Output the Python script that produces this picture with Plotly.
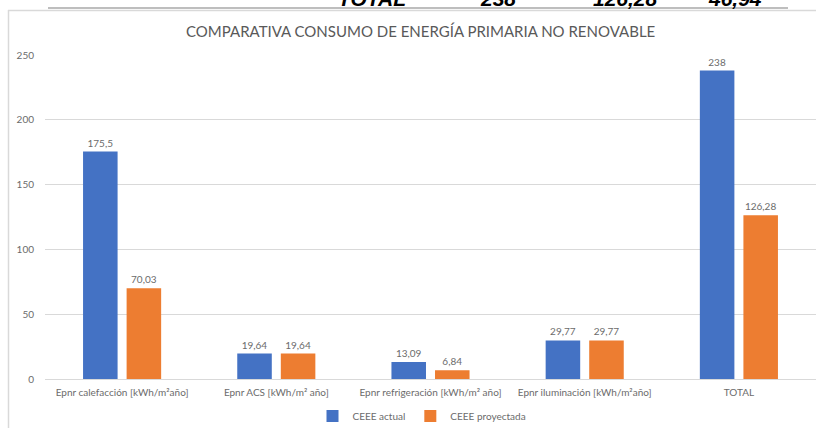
import plotly.graph_objects as go

categories = ["Epnr calefacción [kWh/m²año]", "Epnr ACS [kWh/m² año]",
              "Epnr refrigeración [kWh/m² año]", "Epnr iluminación [kWh/m²año]", "TOTAL"]
actual = [175.5, 19.64, 13.09, 29.77, 238]
proyectada = [70.03, 19.64, 6.84, 29.77, 126.28]
actual_labels = ["175,5", "19,64", "13,09", "29,77", "238"]
proyectada_labels = ["70,03", "19,64", "6,84", "29,77", "126,28"]
tick_vals = [0, 50, 100, 150, 200, 250]
top_row = ["TOTAL", "238", "126,28", "46,94"]

W, H = 816, 428
L, R, T, B = 45, 0, 55, 49
PW, PH = W - L - R, H - T - B

def px(x):
    return (x - L) / PW

def py(y):
    return (H - B - y) / PH

FONT = "Lato"
GRAY = "#6b6b6b"

fig = go.Figure()
fig.add_trace(go.Bar(name="CEEE actual", x=categories, y=actual, marker_color="#4472C4",
                     marker_line_width=0, text=actual_labels, textposition="outside",
                     textfont=dict(color=GRAY, size=10), cliponaxis=False))
fig.add_trace(go.Bar(name="CEEE proyectada", x=categories, y=proyectada, marker_color="#ED7D31",
                     marker_line_width=0, text=proyectada_labels, textposition="outside",
                     textfont=dict(color=GRAY, size=10), cliponaxis=False))

shapes = [
    dict(type="line", xref="paper", yref="paper", x0=px(8), x1=px(820), y0=py(10.5), y1=py(10.5),
         line=dict(color="#d9d9d9", width=1.5)),
    dict(type="line", xref="paper", yref="paper", x0=px(8.5), x1=px(8.5), y0=py(10), y1=py(430),
         line=dict(color="#d9d9d9", width=1.5)),
    dict(type="line", xref="paper", yref="paper", x0=px(48), x1=px(788), y0=py(8), y1=py(8),
         line=dict(color="#7f7f7f", width=1.2)),
]

annotations = [
    dict(text="COMPARATIVA CONSUMO DE ENERGÍA PRIMARIA NO RENOVABLE", xref="paper", yref="paper",
         x=px(420), y=py(31), xanchor="center", yanchor="middle", showarrow=False,
         font=dict(family=FONT, size=15, color="#595959")),
]
top_x = [372, 498, 625, 735]
for t, xx in zip(top_row, top_x):
    annotations.append(dict(text=t, xref="paper", yref="paper", x=px(xx), y=py(12),
                            xanchor="center", yanchor="bottom", showarrow=False,
                            font=dict(family="Liberation Sans", size=21, color="#000000",
                                      style="italic", weight="bold")))

fig.update_layout(
    width=W, height=H,
    margin=dict(l=L, r=R, t=T, b=B, pad=0, autoexpand=False),
    paper_bgcolor="white", plot_bgcolor="white",
    font=dict(family=FONT, color=GRAY, size=10),
    barmode="group", bargap=0.435, bargroupgap=0.207,
    showlegend=True,
    legend=dict(orientation="h", xref="container", yref="container",
                x=422 / W, xanchor="center", y=1 - 416 / H, yanchor="middle",
                font=dict(size=10, color=GRAY), itemwidth=30, traceorder="normal"),
    xaxis=dict(showgrid=False, showline=False, ticks="", tickfont=dict(size=10, color=GRAY),
               ticklabelstandoff=6),
    yaxis=dict(range=[0, 250], tickvals=tick_vals, showgrid=True, gridcolor="#d9d9d9",
               gridwidth=1, zeroline=True, zerolinecolor="#d9d9d9", zerolinewidth=1,
               showline=False, ticks="", tickfont=dict(size=10, color=GRAY),
               ticklabelstandoff=10),
    shapes=shapes, annotations=annotations,
)

fig.write_html("out.html", config={"displayModeBar": False},
               post_script="document.body.style.margin='0';document.body.style.overflow='hidden';")
